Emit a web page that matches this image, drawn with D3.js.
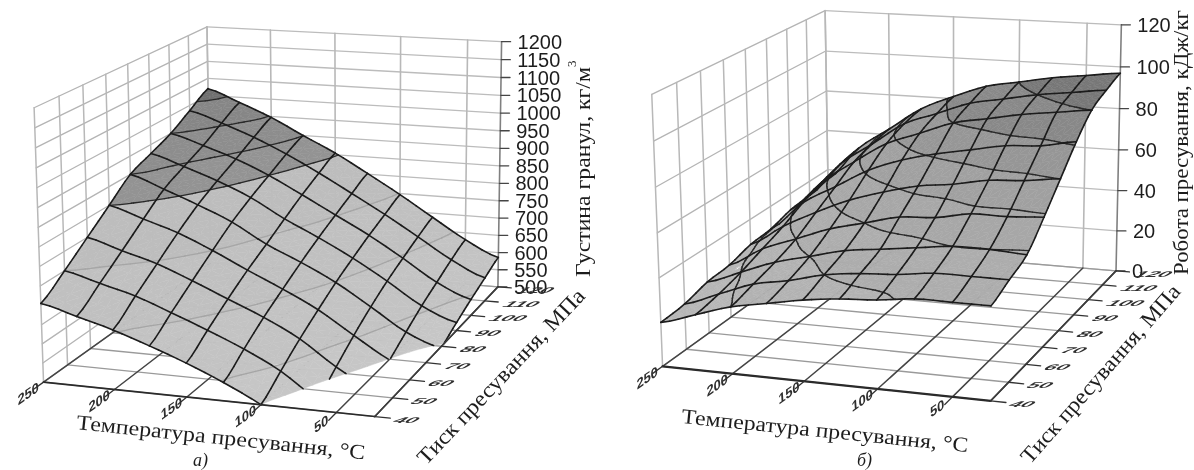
<!DOCTYPE html>
<html>
<head>
<meta charset="utf-8">
<script src="https://cdnjs.cloudflare.com/ajax/libs/d3/7.8.5/d3.min.js"></script>
<style>
html, body { margin: 0; padding: 0; background: #fff; overflow: hidden; }
</style>
</head>
<body>
<svg id="chart" width="1194" height="470"></svg>
<script>
// mesh nodes of both surfaces
var tempValues = [250, 225, 200, 175, 150, 125, 100, 75, 50, 25];
var pressValues = [40, 50, 60, 70, 80, 90, 100, 110, 120];

// axis ticks
var tempTicks = [250, 200, 150, 100, 50];
var pressTicks = [40, 50, 60, 70, 80, 90, 100, 110, 120];
var densityTicks = [500, 550, 600, 650, 700, 750, 800, 850, 900, 950, 1000, 1050, 1100, 1150, 1200];
var workTicks = [0, 20, 40, 60, 80, 100, 120];

// density, one row per pressure (40 first), one column per temperature
var density40 = [705, 680, 654, 622, 587, 547, 500, 440, 400, 370];
var density50 = [750, 725, 700, 665, 628, 588, 540, 475, 432, 400];
var density60 = [800, 772, 745, 708, 668, 628, 580, 515, 465, 430];
var density70 = [850, 820, 790, 750, 705, 662, 615, 555, 498, 462];
var density80 = [900, 866, 830, 790, 737, 695, 648, 590, 530, 495];
var density90 = [925, 895, 862, 822, 770, 725, 676, 620, 560, 522];
var density100 = [950, 922, 890, 850, 802, 752, 702, 645, 585, 545];
var density110 = [985, 955, 920, 878, 830, 778, 725, 668, 610, 566];
var density120 = [1020, 985, 947, 900, 855, 802, 747, 688, 630, 586];

// pressing work, same layout
var work40 = [20, 25, 30, 33, 36, 38, 39, 41, 41, 41];
var work50 = [21, 27, 33, 36, 40, 42, 43, 45, 45, 45];
var work60 = [24, 30, 36, 40, 44, 46, 48, 50, 50, 49];
var work70 = [25, 34, 40, 46, 50, 54, 55, 58, 58, 59];
var work80 = [28, 38, 46, 53, 58, 62, 64, 67, 68, 70];
var work90 = [29, 43, 52, 61, 67, 71, 74, 77, 78, 81];
var work100 = [32, 47, 58, 68, 74, 80, 83, 86, 88, 90];
var work110 = [33, 50, 61, 72, 78, 84, 87, 90, 92, 94];
var work120 = [35, 52, 63, 74, 81, 87, 90, 93, 95, 97];

// contour levels and the grey of the band above each one
var densityLevels = [500, 550, 650, 750, 850, 900, 950, 1000];
var densityColors = ["#c6c6c6", "#c3c3c3", "#c0c0c0", "#bdbdbd", "#939393", "#8d8d8d", "#868686", "#707070"];
var workLevels = [0, 30, 40, 50, 60, 70, 80, 90];
var workColors = ["#b6b6b6", "#b2b2b2", "#adadad", "#a7a7a7", "#a0a0a0", "#969696", "#888888", "#777777"];

var svg = d3.select("#chart");
var defs = svg.append("defs");
defs.append("filter").attr("id", "soft")
  .attr("x", "-5%").attr("y", "-5%").attr("width", "110%").attr("height", "110%")
  .append("feGaussianBlur").attr("stdDeviation", 0.75);
var root = svg.append("g").attr("filter", "url(#soft)");

var subdiv = 4; // fine steps per mesh cell, the surface is drawn smooth

// fit a 3x4 perspective matrix to unit cube corners -> screen points
function fitCamera(corners) {
  var A = [];
  corners.forEach(function(c) {
    var u = c[0], v = c[1], w = c[2], x = c[3], y = c[4];
    A.push([u, v, w, 1, 0, 0, 0, 0, -u*x, -v*x, -w*x, x]);
    A.push([0, 0, 0, 0, u, v, w, 1, -u*y, -v*y, -w*y, y]);
  });
  // normal equations
  var n = 11, N = [];
  for (var r = 0; r < n; r++) {
    N.push([]);
    for (var s = 0; s <= n; s++) {
      N[r].push(d3.sum(A, function(row) { return row[r]*row[s]; }));
    }
  }
  for (var i = 0; i < n; i++) {
    var best = i;
    for (var k = i+1; k < n; k++) if (Math.abs(N[k][i]) > Math.abs(N[best][i])) best = k;
    var tmp = N[i]; N[i] = N[best]; N[best] = tmp;
    for (var k2 = 0; k2 < n; k2++) {
      if (k2 === i) continue;
      var f = N[k2][i]/N[i][i];
      for (var s2 = i; s2 <= n; s2++) N[k2][s2] -= f*N[i][s2];
    }
  }
  var m = [];
  for (var j = 0; j < n; j++) m.push(N[j][n]/N[j][j]);
  return function(u, v, w) {
    var d = m[8]*u + m[9]*v + m[10]*w + 1;
    return [(m[0]*u + m[1]*v + m[2]*w + m[3])/d, (m[4]*u + m[5]*v + m[6]*w + m[7])/d];
  };
}

// keep the part of a polygon on one side of a z level
function clipPoly(poly, level, above) {
  var out = [];
  poly.forEach(function(a, i) {
    var b = poly[(i+1)%poly.length];
    var ain = above ? a.z >= level : a.z <= level;
    var bin = above ? b.z >= level : b.z <= level;
    if (ain) out.push(a);
    if (ain !== bin) out.push(cut(a, b, level));
  });
  return out;
}

function cut(a, b, level) {
  var f = (level-a.z)/(b.z-a.z);
  return {t: a.t+(b.t-a.t)*f, p: a.p+(b.p-a.p)*f, z: level};
}

function spline(a, b, c, d, s) {
  return 0.5*(2*b + (c-a)*s + (2*a-5*b+4*c-d)*s*s + (3*b-a-3*c+d)*s*s*s);
}

// smooth surface between the read nodes
function smoothSurface(grid) {
  var ni = tempValues.length, nj = pressValues.length;
  var tAt = d3.scaleLinear().domain(d3.range(ni)).range(tempValues);
  var pAt = d3.scaleLinear().domain(d3.range(nj)).range(pressValues);
  function g(i, j) {
    return grid[Math.max(0, Math.min(nj-1, j))][Math.max(0, Math.min(ni-1, i))];
  }
  return function(fi, fj) {
    var i = Math.min(ni-2, Math.floor(fi)), j = Math.min(nj-2, Math.floor(fj));
    var s = fi-i, r = fj-j, rows = [];
    for (var q = -1; q <= 2; q++) {
      rows.push(spline(g(i-1, j+q), g(i, j+q), g(i+1, j+q), g(i+2, j+q), s));
    }
    return {t: tAt(fi), p: pAt(fj), z: spline(rows[0], rows[1], rows[2], rows[3], r)};
  };
}

function drawPanel(cfg) {
  var g = root.append("g");
  var project = fitCamera(cfg.corners);
  var tScale = d3.scaleLinear().domain([250, 25]).range([0, 1]);
  var pScale = d3.scaleLinear().domain([40, 120]).range([0, 1]);
  var zScale = d3.scaleLinear().domain(cfg.zDomain).range([0, 1]);
  var xy = function(t, p, z) { return project(tScale(t), pScale(p), zScale(z)); };
  var line = d3.line();
  var zMin = cfg.zDomain[0], zMax = cfg.zDomain[1];

  function seg(parent, a, b, color, width) {
    parent.append("path").attr("d", line([a, b]))
      .attr("fill", "none").attr("stroke", color).attr("stroke-width", width)
      .attr("stroke-linecap", "round");
  }

  // walls
  var walls = g.append("g");
  cfg.zTicks.forEach(function(z) {
    seg(walls, xy(250, 40, z), xy(250, 120, z), "#b4b4b4", 1.3);
    seg(walls, xy(250, 120, z), xy(25, 120, z), "#bcbcbc", 1.3);
  });
  pressTicks.forEach(function(p) {
    seg(walls, xy(250, p, zMin), xy(250, p, zMax), "#b8b8b8", 1.5);
  });
  tempTicks.concat([25]).forEach(function(t) {
    seg(walls, xy(t, 120, zMin), xy(t, 120, zMax), t === 25 ? "#808080" : "#b8b8b8", 1.6);
  });

  // floor
  pressTicks.forEach(function(p) {
    seg(walls, xy(250, p, zMin), xy(25, p, zMin), "#9a9a9a", 1.3);
  });
  tempTicks.forEach(function(t) {
    seg(walls, xy(t, 40, zMin), xy(t, 120, zMin), "#444", 1.5);
  });
  seg(walls, xy(25, 40, zMin), xy(25, 120, zMin), "#444", 1.5);

  // surface cells, back row first
  var surf = g.append("g");
  var at = smoothSurface(cfg.grid);
  var lastI = (tempValues.length-1)*subdiv, lastJ = (pressValues.length-1)*subdiv;
  function node(i, j) { return at(i/subdiv, j/subdiv); }
  function toPath(poly) {
    return line(poly.map(function(q) { return xy(q.t, q.p, q.z); })) + "Z";
  }
  for (var j = lastJ-1; j >= 0; j--) {
    for (var i = 0; i < lastI; i++) {
      var a = node(i, j), b = node(i+1, j), c = node(i+1, j+1), d = node(i, j+1);
      var tris = [[a, b, c], [a, c, d]];
      tris.forEach(function(tri) {
        cfg.levels.forEach(function(lo, k) {
          var hi = k+1 < cfg.levels.length ? cfg.levels[k+1] : 1e6;
          var poly = clipPoly(clipPoly(tri, lo, true), hi, false);
          if (poly.length < 3) return;
          surf.append("path").attr("d", toPath(poly))
            .attr("fill", cfg.colors[k]).attr("stroke", cfg.colors[k]).attr("stroke-width", 0.5);
        });
      });
    }
  }

  // contour lines go over all the fills so no cell covers them
  for (var cj = lastJ-1; cj >= 0; cj--) {
    for (var ci = 0; ci < lastI; ci++) {
      var a2 = node(ci, cj), b2 = node(ci+1, cj), c2 = node(ci+1, cj+1), d2 = node(ci, cj+1);
      [[a2, b2, c2], [a2, c2, d2]].forEach(function(tri) {
        cfg.levels.slice(1).forEach(function(level) {
          var pts = [];
          tri.forEach(function(p0, e) {
            var p1 = tri[(e+1)%3];
            if ((p0.z < level) !== (p1.z < level)) pts.push(cut(p0, p1, level));
          });
          if (pts.length === 2) {
            seg(surf, xy(pts[0].t, pts[0].p, level), xy(pts[1].t, pts[1].p, level), cfg.contourColor(level), cfg.contourWidth);
          }
        });
      });
    }
  }

  // mesh lines through the nodes, cut where they go under the floor
  function meshPiece(p0, p1) {
    if (p0.z < zMin && p1.z < zMin) return;
    if (p0.z < zMin) p0 = cut(p0, p1, zMin);
    if (p1.z < zMin) p1 = cut(p0, p1, zMin);
    seg(surf, xy(p0.t, p0.p, p0.z), xy(p1.t, p1.p, p1.z), "#1c1c1c", 1.6);
  }
  tempValues.forEach(function(t, ti) {
    for (var s = 0; s < lastJ; s++) meshPiece(node(ti*subdiv, s), node(ti*subdiv, s+1));
  });
  pressValues.forEach(function(p, pi) {
    for (var s = 0; s < lastI; s++) meshPiece(node(s, pi*subdiv), node(s+1, pi*subdiv));
  });

  // axes on top
  var axes = g.append("g");
  seg(axes, xy(250, 40, zMin), xy(25, 40, zMin), "#2a2a2a", cfg.frontWidth);
  seg(axes, xy(25, 40, zMin), xy(25, 120, zMin), "#3c3c3c", 1.6);
  cfg.zTicks.forEach(function(z) {
    var q = xy(25, 120, z);
    seg(axes, q, [q[0]+9, q[1]], "#444", 1.3);
    axes.append("text").attr("x", q[0]+16).attr("y", q[1]+7)
      .attr("font-family", "Liberation Sans").attr("font-size", cfg.zFont)
      .attr("fill", "#1e1e1e").text(z);
  });
  tempTicks.forEach(function(t) {
    var q = xy(t, 40, zMin), q2 = xy(t, 36, zMin);
    seg(axes, q, q2, "#333", 1.3);
    axes.append("text")
      .attr("transform", "translate(" + (q[0]-15) + "," + (q[1]+16) + ") rotate(-35) scale(1.1,0.85) skewX(-25)")
      .attr("text-anchor", "middle")
      .attr("font-family", "Liberation Sans").attr("font-size", 14).attr("font-weight", "bold")
      .attr("fill", "#2e2e2e").text(t);
  });
  pressTicks.forEach(function(p) {
    var q = xy(25, p, zMin), q2 = xy(15, p, zMin);
    seg(axes, q, q2, "#333", 1.3);
    axes.append("text")
      .attr("transform", "translate(" + (q[0]+16) + "," + (q[1]+6) + ") scale(1.5,0.6) skewX(-30)")
      .attr("font-family", "Liberation Sans").attr("font-size", 14).attr("font-weight", "bold")
      .attr("fill", "#2e2e2e").text(p);
  });

  // titles
  cfg.titles.forEach(function(d) {
    var tx = axes.append("text")
      .attr("transform", "translate(" + d[1] + "," + d[2] + ") rotate(" + d[3] + ")")
      .attr("font-family", "Liberation Serif").attr("font-size", d[5])
      .attr("fill", "#1e1e1e").text(d[0]);
    if (d[4]) tx.attr("textLength", d[4]).attr("lengthAdjust", "spacingAndGlyphs");
    if (d[6]) tx.attr("font-style", "italic");
  });
}

var densityGrid = [density40, density50, density60, density70, density80, density90, density100, density110, density120];
var workGrid = [work40, work50, work60, work70, work80, work90, work100, work110, work120];

drawPanel({
  grid: densityGrid,
  zDomain: [500, 1200],
  zTicks: densityTicks,
  zFont: 20,
  levels: densityLevels,
  colors: densityColors,
  contourColor: function(l) { return l >= 850 ? "#2a2a2a" : "#a6a6a6"; },
  contourWidth: 1.3,
  frontWidth: 1.7,
  corners: [
    [0, 0, 0, 45, 381.7], [1, 0, 0, 375, 416.7], [1, 1, 0, 498.7, 286.7], [0, 1, 0, 208.6, 263],
    [0, 0, 1, 32.4, 108], [1, 1, 1, 500.6, 41.7], [0, 1, 1, 209.4, 26.7]
  ],
  titles: [
    ["Температура пресування, °С", 76, 429, 6, 290, 21],
    ["а)", 193, 466, 0, 0, 18, true],
    ["Тиск пресування, МПа", 426, 466, -46.5, 233, 22],
    ["Густина гранул, кг/м", 590, 277, -90, 210, 21],
    ["3", 576, 67, -90, 0, 13]
  ]
});

drawPanel({
  grid: workGrid,
  zDomain: [0, 120],
  zTicks: workTicks,
  zFont: 20,
  levels: workLevels,
  colors: workColors,
  contourColor: function() { return "#2a2a2a"; },
  contourWidth: 1.4,
  frontWidth: 2.3,
  corners: [
    [0, 0, 0, 663.6, 365], [1, 0, 0, 991, 401.7], [1, 1, 0, 1116.6, 270], [0, 1, 0, 827.3, 248],
    [0, 0, 1, 650.3, 95], [1, 1, 1, 1120.4, 25], [0, 1, 1, 827.3, 10]
  ],
  titles: [
    ["Температура пресування, °С", 681, 423, 5.8, 288, 21],
    ["б)", 857, 466, 0, 0, 18, true],
    ["Тиск пресування, МПа", 1030, 465, -48.7, 230, 22],
    ["Робота пресування, кДж/кг", 1188, 275, -90, 265, 20]
  ]
});
</script>
</body>
</html>
